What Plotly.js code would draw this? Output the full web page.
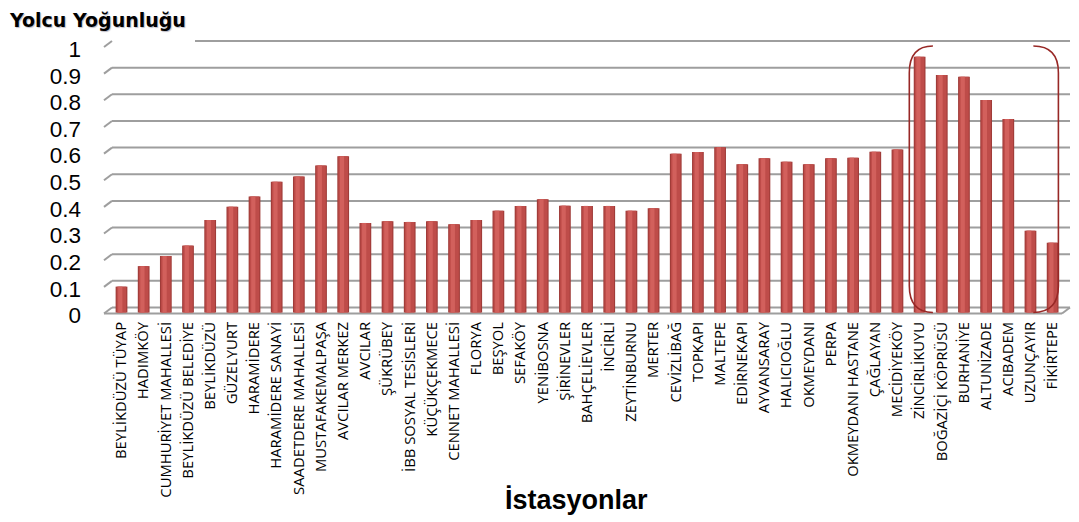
<!DOCTYPE html>
<html>
<head>
<meta charset="utf-8">
<script src="https://cdn.plot.ly/plotly-3.0.1.min.js"></script>
<style>
  html, body { margin: 0; padding: 0; background: #fff; }
  #chart { width: 1079px; height: 522px; }
</style>
</head>
<body>
<div id="chart"></div>
<script>
// Stations along the line, west to east
const stations = [
  'BEYLİKDÜZÜ TÜYAP', 'HADIMKÖY', 'CUMHURİYET MAHALLESİ', 'BEYLİKDÜZÜ BELEDİYE',
  'BEYLİKDÜZÜ', 'GÜZELYURT', 'HARAMİDERE', 'HARAMİDERE SANAYİ',
  'SAADETDERE MAHALLESİ', 'MUSTAFAKEMALPAŞA', 'AVCILAR MERKEZ', 'AVCILAR',
  'ŞÜKRÜBEY', 'İBB SOSYAL TESİSLERİ', 'KÜÇÜKÇEKMECE', 'CENNET MAHALLESİ',
  'FLORYA', 'BEŞYOL', 'SEFAKÖY', 'YENİBOSNA', 'ŞİRİNEVLER', 'BAHÇELİEVLER',
  'İNCİRLİ', 'ZEYTİNBURNU', 'MERTER', 'CEVİZLİBAĞ', 'TOPKAPI', 'MALTEPE',
  'EDİRNEKAPI', 'AYVANSARAY', 'HALICIOĞLU', 'OKMEYDANI', 'PERPA',
  'OKMEYDANI HASTANE', 'ÇAĞLAYAN', 'MECİDİYEKÖY', 'ZİNCİRLİKUYU',
  'BOĞAZİÇİ KÖPRÜSÜ', 'BURHANİYE', 'ALTUNİZADE', 'ACIBADEM', 'UZUNÇAYIR',
  'FİKİRTEPE'
];

// Passenger density per station (0 – 1)
const density = [
  0.097, 0.174, 0.212, 0.251, 0.347, 0.397, 0.435, 0.491, 0.510, 0.552,
  0.586, 0.336, 0.342, 0.340, 0.342, 0.331, 0.347, 0.382, 0.400, 0.425,
  0.401, 0.400, 0.400, 0.382, 0.391, 0.596, 0.602, 0.620, 0.556, 0.579,
  0.566, 0.556, 0.579, 0.581, 0.603, 0.612, 0.960, 0.891, 0.885, 0.797,
  0.726, 0.307, 0.262
];

const yTickVals = [0, 0.1, 0.2, 0.3, 0.4, 0.5, 0.6, 0.7, 0.8, 0.9, 1];
const yTickText = ['0', '0.1', '0.2', '0.3', '0.4', '0.5', '0.6', '0.7', '0.8', '0.9', '1'];

const chartTitle = 'Yolcu Yoğunluğu';
const xTitle = 'İstasyonlar';

// Bracketed group of busiest stations
const groupFirst = 'ZİNCİRLİKUYU';
const groupLast = 'FİKİRTEPE';

// ---- geometry ----
const W = 1079, H = 522;
const M = { l: 112, r: 9, t: 36, b: 204 };
const plotW = W - M.l - M.r;
const plotH = H - M.t - M.b;
const PX_PER_UNIT = 266.5;     // pixels per 1.0 of density
const ZERO_ROW = 312.5;        // pixel row of 0 on the bar plane
const FIRST_BAR_PX = 121.5;
const BAR_STEP = 22.17;

const yRange = [(ZERO_ROW - (H - M.b)) / PX_PER_UNIT, (ZERO_ROW - M.t) / PX_PER_UNIT];
const xRange = [(M.l - FIRST_BAR_PX) / BAR_STEP, (W - M.r - FIRST_BAR_PX) / BAR_STEP];

// pseudo-3D frame: back wall lifted and shifted from the floor's front edge
const WALL_LIFT = 5;
const DEPTH_DX = 8;
const DEPTH_DY = 6;
const gridLine = { color: 'rgb(158,158,158)', width: 2 };

const shapes = [];
yTickVals.forEach((t, k) => {
  const isTop = k === yTickVals.length - 1;
  // the topmost wall line is broken where the title block sits
  shapes.push({
    type: 'line', layer: 'below',
    xref: 'paper', x0: isTop ? 83 / plotW : 0, x1: 1,
    yref: 'y', ysizemode: 'pixel', yanchor: t, y0: WALL_LIFT, y1: WALL_LIFT,
    line: gridLine
  });
  // side-wall edge
  shapes.push({
    type: 'line', layer: 'below',
    xref: 'paper', xsizemode: 'pixel', xanchor: 0, x0: -DEPTH_DX, x1: 0,
    yref: 'y', ysizemode: 'pixel', yanchor: t, y0: WALL_LIFT - DEPTH_DY, y1: WALL_LIFT,
    line: gridLine
  });
});
// floor front edge and right side
shapes.push({
  type: 'line', layer: 'below',
  xref: 'paper', x0: -DEPTH_DX / plotW, x1: 1 - DEPTH_DX / plotW,
  yref: 'y', ysizemode: 'pixel', yanchor: 0, y0: WALL_LIFT - DEPTH_DY, y1: WALL_LIFT - DEPTH_DY,
  line: gridLine
});
shapes.push({
  type: 'line', layer: 'below',
  xref: 'paper', xsizemode: 'pixel', xanchor: 1, x0: -DEPTH_DX, x1: 0,
  yref: 'y', ysizemode: 'pixel', yanchor: 0, y0: WALL_LIFT - DEPTH_DY, y1: WALL_LIFT,
  line: gridLine
});

// double bracket around the busiest group
const gA = stations.indexOf(groupFirst);
const gB = stations.indexOf(groupLast);
const yTop = yTickVals[yTickVals.length - 1];
const yBot = yTickVals[0];
const rY = 0.1;
const lx = gA - 0.465, lEnd = gA + 0.6;
const rx = gB + 0.26, rEnd = gB - 0.87;
const bracketLine = { color: 'rgb(152,40,38)', width: 1.6 };
shapes.push({
  type: 'path', layer: 'above', xref: 'x', yref: 'y',
  path: `M ${lEnd},${yTop} Q ${lx},${yTop} ${lx},${yTop - rY} L ${lx},${yBot + rY} Q ${lx},${yBot} ${lEnd},${yBot}`,
  line: bracketLine
});
shapes.push({
  type: 'path', layer: 'above', xref: 'x', yref: 'y',
  path: `M ${rEnd},${yTop} Q ${rx},${yTop} ${rx},${yTop - rY} L ${rx},${yBot + rY} Q ${rx},${yBot} ${rEnd},${yBot}`,
  line: bracketLine
});

// cylinder shading: stacked overlay bars of decreasing width
const shading = [
  { width: 0.53, color: 'rgb(160,60,57)' },
  { width: 0.43, color: 'rgb(190,76,73)' },
  { width: 0.19, offset: -0.15, color: 'rgb(210,96,92)' }
];
const traces = shading.map(s => {
  const tr = {
    type: 'bar', x: stations, y: density,
    width: s.width,
    marker: { color: s.color, line: { width: 0 } },
    hoverinfo: 'x+y', showlegend: false
  };
  if (s.offset !== undefined) tr.offset = s.offset;
  return tr;
});

const layout = {
  width: W, height: H,
  margin: M,
  paper_bgcolor: '#fff',
  plot_bgcolor: 'rgba(0,0,0,0)',
  barmode: 'overlay',
  showlegend: false,
  title: {
    text: chartTitle,
    font: { family: 'DejaVu Sans', size: 19, weight: 'bold', color: '#000',
            shadow: '1px 1px 1px rgba(60,60,90,0.35)' },
    xref: 'container', yref: 'container',
    x: 10 / W, xanchor: 'left',
    y: 1 - 20 / H, yanchor: 'middle'
  },
  xaxis: {
    type: 'category',
    range: xRange,
    tickmode: 'linear', tick0: 0, dtick: 1,
    tickangle: -90,
    ticks: '',
    showgrid: false, zeroline: false, showline: false,
    tickfont: { family: 'Open Sans', size: 14.8, color: '#000' },
    fixedrange: true
  },
  yaxis: {
    range: yRange,
    tickmode: 'array', tickvals: yTickVals, ticktext: yTickText,
    ticks: '',
    ticklabelshift: 3,
    ticklabelstandoff: 30,
    showgrid: false, zeroline: false, showline: false,
    tickfont: { family: 'Liberation Sans', size: 22.5, color: '#000' },
    fixedrange: true
  },
  shapes: shapes,
  annotations: [{
    text: xTitle,
    xref: 'paper', yref: 'paper',
    x: (576 - M.l) / plotW, y: ((H - M.b) - 500) / plotH,
    xanchor: 'center', yanchor: 'middle',
    showarrow: false,
    font: { family: 'Liberation Sans', size: 27, weight: 'bold', color: '#000' }
  }]
};

Plotly.newPlot('chart', traces, layout, { displayModeBar: false, staticPlot: true });
</script>
</body>
</html>
